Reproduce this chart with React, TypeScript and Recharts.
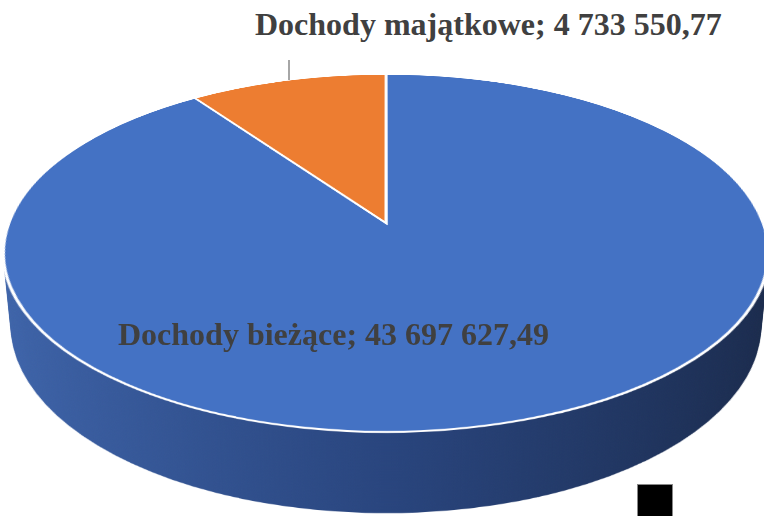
import { PieChart, Pie, Cell } from 'recharts';

const categories = ['Dochody bieżące', 'Dochody majątkowe'];
const values = [43697627.49, 4733550.77];
const topColors = ['#4472C4', '#ED7D31'];
const sideColors = ['url(#sideGrad)', '#b35d22'];

const data = categories.map((name, i) => ({ name, value: values[i] }));

// polish number format: 43 697 627,49
const formatPl = (v: number) => {
  const [int, dec] = v.toFixed(2).split('.');
  return int.replace(/\B(?=(\d{3})+(?!\d))/g, ' ') + ',' + dec;
};

// fake 3d: the same pie drawn as tilted layers, stacked along the normal
const SIZE = 760;
const R = 372.6;
const TILT = 62.2;
const PERSP = 1965;
const DEPTH = 83;
const STEP = 1.5;
const CX = 386;
const CY = 223;
const WIDEN = 1.012;

const depths: number[] = [];
for (let z = DEPTH; z > 0; z -= STEP) depths.push(z);

function Layer({ z, side }: { z: number; side: boolean }) {
  return (
    <div
      style={{
        position: 'absolute',
        left: CX - SIZE / 2,
        top: CY - SIZE / 2,
        width: SIZE,
        height: SIZE,
        transform: `scaleX(${WIDEN}) perspective(${PERSP}px) rotateX(${TILT}deg) translateZ(${-z}px)`,
        transformOrigin: '50% 50%',
      }}
    >
      <PieChart width={SIZE} height={SIZE} margin={{ top: 0, right: 0, bottom: 0, left: 0 }}>
        <Pie
          data={data}
          dataKey="value"
          nameKey="name"
          cx={SIZE / 2}
          cy={SIZE / 2}
          outerRadius={R}
          startAngle={90}
          endAngle={-270}
          isAnimationActive={false}
          stroke={side ? 'none' : '#fff'}
          strokeWidth={side ? 0 : 3}
        >
          {data.map((d, i) => (
            <Cell key={d.name} fill={side ? sideColors[i] : topColors[i]} />
          ))}
        </Pie>
      </PieChart>
    </div>
  );
}

const labelStyle: React.CSSProperties = {
  position: 'absolute',
  whiteSpace: 'nowrap',
  fontFamily: '"Liberation Serif", "Times New Roman", serif',
  fontWeight: 'bold',
  fontSize: 32,
  lineHeight: '32px',
  color: '#404040',
};

export default function App() {
  return (
    <div
      style={{
        position: 'absolute',
        left: 0,
        top: 0,
        width: 764,
        height: 516,
        overflow: 'hidden',
        background: '#fff',
      }}
    >
      <svg width={0} height={0} style={{ position: 'absolute' }}>
        <defs>
          <linearGradient id="sideGrad" x1="0" y1="0" x2="1" y2="0">
            <stop offset="0%" stopColor="#3f65ab" />
            <stop offset="50%" stopColor="#29457e" />
            <stop offset="100%" stopColor="#1a2a4b" />
          </linearGradient>
        </defs>
      </svg>

      {depths.map((z) => (
        <Layer key={z} z={z} side />
      ))}
      <Layer z={0} side={false} />

      <div style={{ position: 'absolute', left: 288, top: 60, width: 1.5, height: 20, background: '#a6a6a6' }} />
      <div style={{ ...labelStyle, left: 255, top: 8 }}>
        {categories[1]}; {formatPl(values[1])}
      </div>
      <div style={{ ...labelStyle, left: 118, top: 318 }}>
        {categories[0]}; {formatPl(values[0])}
      </div>

      <div
        style={{
          position: 'absolute',
          left: 637,
          top: 484,
          width: 36,
          height: 34,
          background: '#000',
          border: '1px solid #888',
          boxSizing: 'border-box',
        }}
      />
    </div>
  );
}
